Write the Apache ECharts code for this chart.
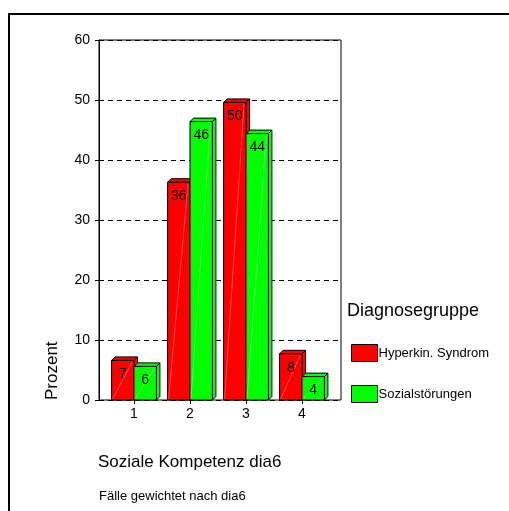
<!DOCTYPE html>
<html>
<head>
<meta charset="utf-8">
<script src="https://cdn.jsdelivr.net/npm/echarts@6/dist/echarts.min.js"></script>
<style>
  html, body { margin: 0; padding: 0; background: #fff; }
  #chart { width: 509px; height: 511px; }
</style>
</head>
<body>
<div id="chart"></div>
<script>
// Categories of "Soziale Kompetenz dia6"
const categories = ['1', '2', '3', '4'];
// Percent per diagnosis group
const hyperkinValues = [6.6, 36.3, 49.6, 7.7];
const sozialValues = [5.6, 46.4, 44.4, 3.9];
// Value axis
const yMin = 0, yMax = 60, yStep = 10;

const seriesNames = ['Hyperkin. Syndrom', 'Sozialstörungen'];
const seriesColors = ['#ff0000', '#00ff00'];
const FONT = '"Liberation Sans", Arial, Helvetica, sans-serif';
const DEPTH = 3.5;

// Bar with front face, top face and right side face
function make3DBar(seriesIndex) {
  return function (params, api) {
    const cat = api.value(0);
    const v = api.value(1);
    const base = api.coord([cat, 0]);
    const top = api.coord([cat, v]);
    const band = api.size([1, 0])[0];
    const w = band * 0.4;
    const x0 = seriesIndex === 0 ? base[0] - w : base[0];
    const x1 = x0 + w;
    const yt = top[1];
    const yb = base[1];
    const d = DEPTH;
    const color = seriesColors[seriesIndex];
    const edge = { fill: color, stroke: '#000', lineWidth: 1 };
    return {
      type: 'group',
      children: [
        { type: 'polygon', shape: { points: [[x1, yt], [x1 + d, yt - d], [x1 + d, yb - d], [x1, yb]] }, style: edge },
        { type: 'polygon', shape: { points: [[x0, yt], [x0 + d, yt - d], [x1 + d, yt - d], [x1, yt]] }, style: edge },
        { type: 'rect', shape: { x: x0, y: yt, width: w, height: yb - yt }, style: edge },
        { type: 'line', shape: { x1: x0 + 1, y1: yb - 1, x2: x1 - 2, y2: yt + 2 },
          style: { stroke: 'rgba(255,255,255,0.3)', lineWidth: 1 } },
        { type: 'text', style: { text: String(Math.round(v)), x: x0 + w / 2, y: yt + 14,
            align: 'center', verticalAlign: 'middle', fill: '#000', font: '14px ' + FONT } }
      ]
    };
  };
}

const chart = echarts.init(document.getElementById('chart'), null, { renderer: 'canvas' });

chart.setOption({
  animation: false,
  backgroundColor: '#fff',
  grid: [
    { left: 99, top: 40, width: 242, height: 360, show: true, borderColor: '#000', borderWidth: 1, backgroundColor: 'transparent' },
    { left: 106, top: 40, width: 224, height: 360 }
  ],
  xAxis: [
    { gridIndex: 0, type: 'value', min: 0, max: 1, show: false },
    {
      gridIndex: 1, type: 'category', data: categories,
      axisLine: { show: false },
      axisTick: { show: true, alignWithLabel: true, length: 4, lineStyle: { color: '#000' } },
      axisLabel: { color: '#000', fontSize: 14, fontFamily: FONT, margin: 7 }
    }
  ],
  yAxis: [
    {
      gridIndex: 0, type: 'value', min: yMin, max: yMax, interval: yStep,
      axisLine: { show: true, lineStyle: { color: '#000' } },
      axisTick: { show: true, length: 4, lineStyle: { color: '#000' } },
      axisLabel: { color: '#000', fontSize: 14, fontFamily: FONT, margin: 9 },
      splitLine: { show: true, lineStyle: { color: '#000', type: [5, 4], width: 1 } }
    },
    { gridIndex: 1, type: 'value', min: yMin, max: yMax, show: false }
  ],
  legend: {
    orient: 'vertical', left: 351, top: 344, padding: 0,
    itemWidth: 26, itemHeight: 17, itemGap: 23,
    icon: 'rect',
    itemStyle: { borderColor: '#000', borderWidth: 1 },
    textStyle: { color: '#000', fontSize: 13, fontFamily: FONT, padding: [0, 0, 0, -4] },
    data: seriesNames
  },
  series: [hyperkinValues, sozialValues].map((vals, i) => ({
    type: 'custom',
    name: seriesNames[i],
    xAxisIndex: 1, yAxisIndex: 1,
    itemStyle: { color: seriesColors[i], borderColor: '#000', borderWidth: 1 },
    renderItem: make3DBar(i),
    encode: { x: 0, y: 1 },
    data: vals.map((v, j) => [j, v]),
    z: 2 + i
  })),
  graphic: [
    { type: 'rect', shape: { x: 9, y: 14, width: 600, height: 600 }, style: { fill: 'none', stroke: '#000', lineWidth: 2 }, silent: true },
    { type: 'text', x: 52, y: 400, rotation: Math.PI / 2,
      style: { text: 'Prozent', font: '17px ' + FONT, fill: '#000', align: 'left', verticalAlign: 'middle' } },
    { type: 'text', x: 347, y: 311,
      style: { text: 'Diagnosegruppe', font: '18px ' + FONT, fill: '#000', align: 'left', verticalAlign: 'middle' } },
    { type: 'text', x: 98, y: 462,
      style: { text: 'Soziale Kompetenz dia6', font: '17px ' + FONT, fill: '#000', align: 'left', verticalAlign: 'middle' } },
    { type: 'text', x: 99, y: 496,
      style: { text: 'Fälle gewichtet nach dia6', font: '13px ' + FONT, fill: '#000', align: 'left', verticalAlign: 'middle' } }
  ]
});
</script>
</body>
</html>
